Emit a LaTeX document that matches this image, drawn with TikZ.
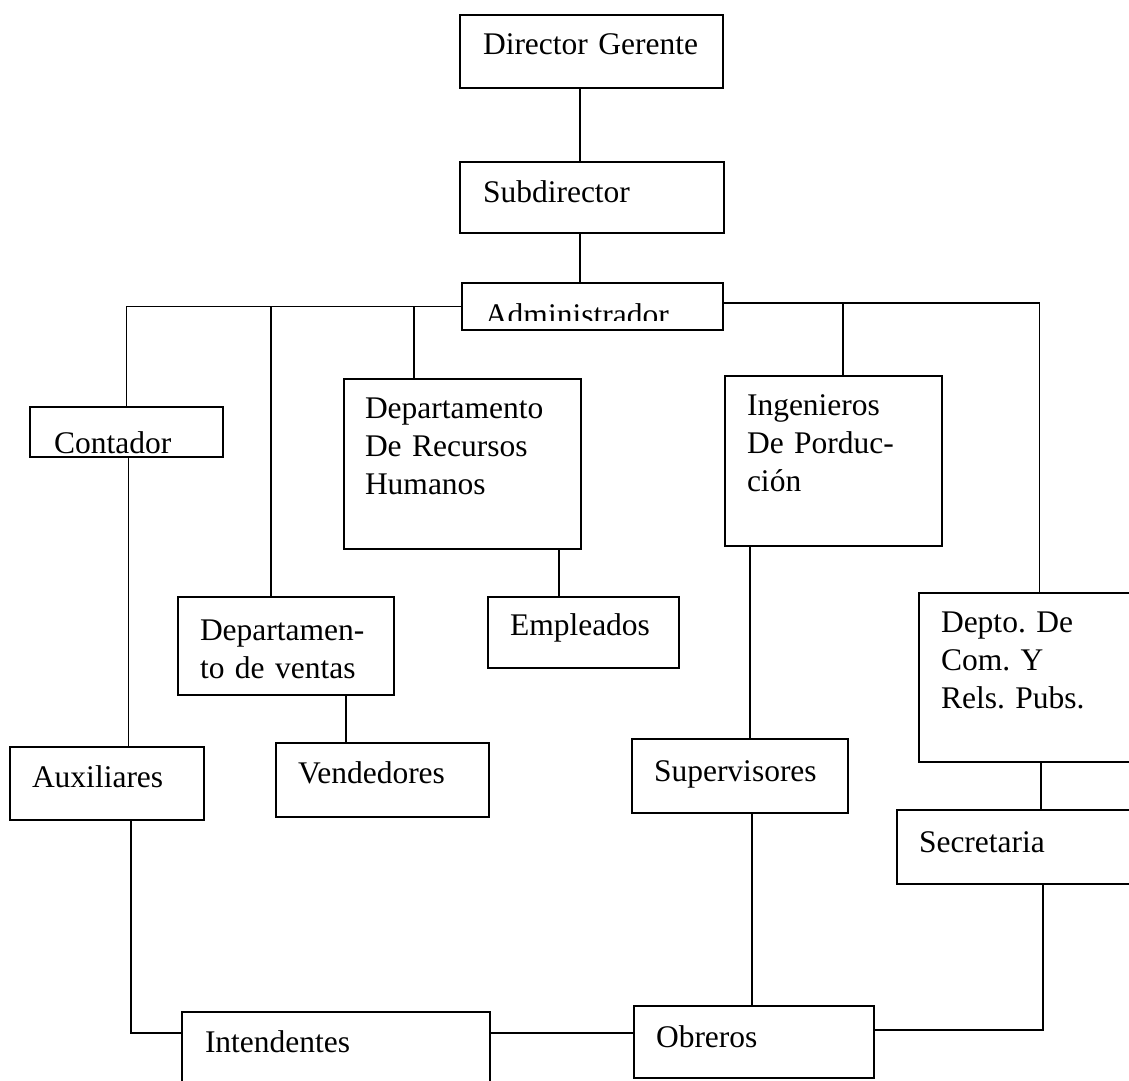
\documentclass[tikz,border=0pt]{standalone}
\usepackage{fontspec}
\setmainfont{Liberation Serif}
\frenchspacing
\begin{document}
\begin{tikzpicture}[x=1pt,y=-1pt,
  obox/.style={draw, line width=1.8pt, rectangle, inner sep=0pt, outer sep=0pt, anchor=north west},
  otext/.style={anchor=base west, inner sep=0pt, outer sep=0pt, align=left, text width=240pt,
                font=\fontsize{31.5}{38}\selectfont\frenchspacing},
  conn/.style={line width=1.8pt}]
\useasboundingbox (0,0) rectangle (1129,1080);
\clip (0,0) rectangle (1129,1080);
\fill[white] (0,0) rectangle (1129,1080);

% boxes
\node[obox, minimum width=263pt, minimum height=73pt] (dg)   at (460,15)   {};
\node[obox, minimum width=264pt, minimum height=71pt] (sub)  at (460,162)  {};
\node[obox, minimum width=261pt, minimum height=47pt] (adm)  at (462,283)  {};
\node[obox, minimum width=193pt, minimum height=50pt] (cont) at (30,407)   {};
\node[obox, minimum width=237pt, minimum height=170pt] (rh)  at (344,379)  {};
\node[obox, minimum width=217pt, minimum height=170pt] (ing) at (725,376)  {};
\node[obox, minimum width=216pt, minimum height=169pt] (com) at (919,593)  {};
\node[obox, minimum width=216pt, minimum height=98pt] (dv)   at (178,597)  {};
\node[obox, minimum width=191pt, minimum height=71pt] (emp)  at (488,597)  {};
\node[obox, minimum width=213pt, minimum height=74pt] (vend) at (276,743)  {};
\node[obox, minimum width=194pt, minimum height=73pt] (aux)  at (10,747)   {};
\node[obox, minimum width=216pt, minimum height=74pt] (sup)  at (632,739)  {};
\node[obox, minimum width=238pt, minimum height=74pt] (sec)  at (897,810)  {};
\node[obox, minimum width=308pt, minimum height=72pt] (int)  at (182,1012) {};
\node[obox, minimum width=240pt, minimum height=72pt] (obr)  at (634,1006) {};

% texts
\node[otext] (tdg)   at (483,54)   {Director Gerente};
\node[otext] (tsub)  at (483,202)  {Subdirector};
\begin{scope}
  \clip (463,284) rectangle (722,320);
  \node[otext] (tadm) at (485,325) {Administrador};
\end{scope}
\node[otext] (tcont) at (54,453)   {Contador};
\node[otext] (trh)   at (365,418)  {Departamento\\De Recursos\\Humanos};
\node[otext] (ting)  at (747,415)  {Ingenieros\\De Porduc-\\ción};
\node[otext] (tcom)  at (941,632)  {Depto. De\\Com. Y\\Rels. Pubs.};
\node[otext] (tdv)   at (200,640)  {Departamen-\\to de ventas};
\node[otext] (temp)  at (510,635)  {Empleados};
\node[otext] (tvend) at (298,783)  {Vendedores};
\node[otext] (taux)  at (32,787)   {Auxiliares};
\node[otext] (tsup)  at (654,781)  {Supervisores};
\node[otext] (tsec)  at (919,852)  {Secretaria};
\node[otext] (tint)  at (205,1052) {Intendentes};
\node[otext] (tobr)  at (656,1047) {Obreros};

% connectors
\draw[conn] ([xshift=-11.5]dg.south) -- ([xshift=-11.5]dg.south |- sub.north);
\draw[conn] ([xshift=-12]sub.south) -- ([xshift=-12]sub.south |- adm.north);
\draw[conn] (adm.west) -| (cont.north);
\draw[conn] (adm.west) -| ([xshift=-15]dv.north);
\draw[conn] (adm.west) -| ([xshift=-48.5]rh.north);
\draw[conn] ([yshift=3.5]adm.east) -| ([xshift=9.5]ing.north);
\draw[conn] ([yshift=3.5]adm.east) -| ([xshift=12.5]com.north);
\draw[conn] ([xshift=2]cont.south) -- ([xshift=2]cont.south |- aux.north);
\draw[conn] ([xshift=96.5]rh.south) -- ([xshift=96.5]rh.south |- emp.north);
\draw[conn] ([xshift=60]dv.south) -- ([xshift=60]dv.south |- vend.north);
\draw[conn] ([xshift=-83.5]ing.south) -- ([xshift=-83.5]ing.south |- sup.north);
\draw[conn] ([xshift=14]com.south) -- ([xshift=14]com.south |- sec.north);
\draw[conn] ([xshift=24]aux.south) |- ([yshift=15]int.west);
\draw[conn] ([yshift=15]int.east) -- ([yshift=15]int.east -| obr.west);
\draw[conn] ([xshift=12]sup.south) -- ([xshift=12]sup.south |- obr.north);
\draw[conn] ([xshift=27]sec.south) |- ([yshift=12]obr.east);
\end{tikzpicture}
\end{document}
